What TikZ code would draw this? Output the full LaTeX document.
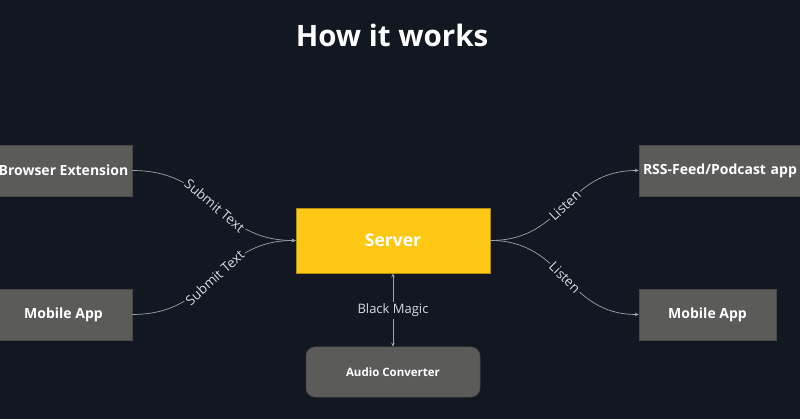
\documentclass[tikz,border=0pt]{standalone}
\usepackage{fontspec}
\setmainfont{Open Sans}
\usetikzlibrary{arrows.meta}
\definecolor{bg}{HTML}{111821}
\definecolor{boxgray}{HTML}{5B5B59}
\definecolor{srv}{HTML}{FFC814}
\definecolor{edge}{HTML}{A0A4A8}
\definecolor{lbl}{HTML}{D8DADC}
\tikzset{
  grayboxnode/.style={fill=boxgray, draw=boxgray!80!black, line width=0.5pt, minimum width=137pt, minimum height=51pt, inner sep=0pt, text=white, font=\fontsize{14}{16}\selectfont\bfseries},
  servernode/.style={fill=srv, draw=srv!70!black, line width=0.8pt, minimum width=194pt, minimum height=65pt, inner sep=0pt, text=white, font=\fontsize{17.5}{20}\selectfont\bfseries},
  convnode/.style={fill=boxgray, draw=boxgray!80!black, line width=0.5pt, rounded corners=9pt, minimum width=174pt, minimum height=50pt, inner sep=0pt, text=white, font=\fontsize{11.5}{14}\selectfont\bfseries},
  conn/.style={draw=edge, line width=0.7pt, -{Stealth[length=4pt,width=3.5pt]}},
  elabel/.style={fill=bg, text=lbl, inner sep=1.5pt, font=\fontsize{13.5}{15}\selectfont, sloped},
}
\begin{document}
\begin{tikzpicture}[x=1pt,y=-1pt]
\fill[bg] (0,0) rectangle (800,419);
\useasboundingbox (0,0) rectangle (800,419);
\begin{scope}
\clip (0,0) rectangle (800,419);
\node[text=white, font=\fontsize{29.5}{34}\selectfont\bfseries] (title) at (392,35) {How it works};
\node[grayboxnode] (be) at (63.5,170.5) {Browser Extension};
\node[grayboxnode] (ma1) at (63.5,314.5) {Mobile App};
\node[servernode] (srv) at (393,240.5) {Server};
\node[grayboxnode, minimum width=175pt, text width=167pt, align=left] (rss) at (726.5,170.5) {RSS-Feed/Podcast app};
\node[grayboxnode] (ma2) at (707.5,314.5) {Mobile App};
\node[convnode] (ac) at (393,372) {Audio Converter};
\coordinate (srvL) at (srv.west);
\coordinate (srvR) at (srv.east);
\draw[conn] (be.east) .. controls (215,170.5) and (215,240.5) .. (srvL)
  node[elabel, pos=0.5] {Submit Text};
\draw[conn] (ma1.east) .. controls (215,314.5) and (215,240.5) .. (srvL)
  node[elabel, pos=0.5] {Submit Text};
\draw[conn] (srvR) .. controls (565,240.5) and (565,170.5) .. (rss.west)
  node[elabel, pos=0.5] {Listen};
\draw[conn] (srvR) .. controls (565,240.5) and (565,314.5) .. (ma2.west)
  node[elabel, pos=0.5] {Listen};
\draw[draw=edge, line width=0.7pt, {Stealth[length=4pt,width=3.5pt]}-{Stealth[length=4pt,width=3.5pt]}] (srv.south) -- (ac.north)
  node[pos=0.5, fill=bg, text=lbl, inner sep=2pt, font=\fontsize{13}{15}\selectfont] {Black Magic};
\end{scope}
\end{tikzpicture}
\end{document}
